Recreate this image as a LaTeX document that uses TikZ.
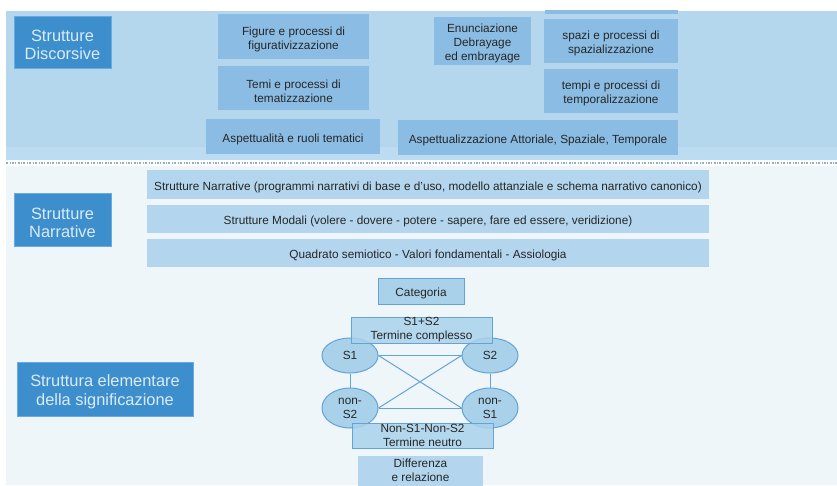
\documentclass[tikz,border=0pt]{standalone}
\usepackage{fontspec}
\setmainfont{Liberation Sans}
\usetikzlibrary{shapes.geometric}
\definecolor{toppanel}{HTML}{B5D7EE}
\definecolor{toppanelb}{HTML}{BCDCF1}
\definecolor{topbox}{HTML}{8BBDE4}
\definecolor{lowpanel}{HTML}{EFF6FA}
\definecolor{lowbox}{HTML}{B3D6EE}
\definecolor{darkbox}{HTML}{3D8ECD}
\definecolor{darkline}{HTML}{6AAAE0}
\definecolor{darktext}{HTML}{DCEBF8}
\definecolor{sqfill}{HTML}{A9D2EA}
\definecolor{sqline}{HTML}{64A3D8}
\definecolor{txt}{HTML}{262626}
\definecolor{dashc}{HTML}{93AFC6}
\begin{document}
\begin{tikzpicture}[x=1pt,y=-1pt,
  every node/.style={font=\fontsize{11.8}{14}\selectfont, text=txt, align=center, inner sep=0pt},
  lower/.style={execute at begin node={\rule{0pt}{#1}}},
  ml/.style={label={[yshift=-2.8pt]center:{#1}}},
  dml/.style={label={[yshift=-2.8pt, text=darktext, font=\fontsize{16.4}{18.5}\selectfont]center:{#1}}},
  tbox/.style={fill=topbox},
  lbox/.style={fill=lowbox, lower=14pt},
  dbox/.style={fill=darkbox, draw=darkline, line width=0.6pt},
  sqbox/.style={fill=sqfill, draw=sqline, line width=1pt, fill opacity=0.85, text opacity=1},
  ell/.style={ellipse, fill=sqfill, draw=sqline, line width=1pt},
  conn/.style={draw=sqline, line width=1pt}]
\clip (0,0) rectangle (837,485);
\fill[white] (0,0) rectangle (837,485);
% panels
\fill[toppanel] (6,11) rectangle (837,160);
\fill[toppanelb] (6,147) rectangle (837,160);
\fill[lowpanel] (6,166) rectangle (837,485);
\draw[dashc, line width=1.1pt, dash pattern=on 2pt off 1.5pt on 0.8pt off 1.5pt] (6,163) -- (837,163);
% top section
\node[dbox, minimum width=97pt, minimum height=52pt, dml={Strutture\\Discorsive}] (sd) at (62.5,42) {};
\node[tbox, minimum width=151pt, minimum height=45pt, ml={Figure e processi di\\figurativizzazione}] (fig) at (293.5,36.5) {};
\node[tbox, minimum width=151pt, minimum height=44pt, ml={Temi e processi di\\tematizzazione}] (temi) at (293.5,88) {};
\node[tbox, lower=15pt, minimum width=174pt, minimum height=35pt] (asp) at (293,136.5) {Aspettualità e ruoli tematici};
\node[tbox, minimum width=97pt, minimum height=48pt, ml={Enunciazione\\Debrayage\\ed embrayage}] (enun) at (482.5,41) {};
\fill[topbox] (545,10) rectangle (678,13.5);
\node[tbox, minimum width=134pt, minimum height=44pt, ml={spazi e processi di\\spazializzazione}] (spazi) at (611,41) {};
\node[tbox, minimum width=134pt, minimum height=44pt, ml={tempi e processi di\\temporalizzazione}] (tempi) at (611,91) {};
\node[tbox, lower=15pt, minimum width=280pt, minimum height=35pt] (aspz) at (538,137.5) {Aspettualizzazione Attoriale, Spaziale, Temporale};
% narrative section
\node[dbox, minimum width=97pt, minimum height=53pt, dml={Strutture\\Narrative}] (sn) at (62.5,220) {};
\node[lbox, minimum width=562pt, minimum height=29pt] (l1) at (428,184.5) {Strutture Narrative (programmi narrativi di base e d’uso, modello attanziale e schema narrativo canonico)};
\node[lbox, minimum width=562pt, minimum height=28pt] (l2) at (428,219) {Strutture Modali (volere - dovere - potere - sapere, fare ed essere, veridizione)};
\node[lbox, minimum width=562pt, minimum height=28pt] (l3) at (428,253) {Quadrato semiotico - Valori fondamentali - Assiologia};
% elementary structure
\node[dbox, minimum width=176pt, minimum height=54pt, dml={Struttura elementare\\della significazione}] (se) at (105,389) {};
\node[sqbox, fill opacity=1, lower=14pt, minimum width=86pt, minimum height=26pt] (cat) at (421,291) {Categoria};
\node[ell, minimum width=56pt, minimum height=35pt] (s1) at (350,355.5) {S1};
\node[ell, minimum width=56pt, minimum height=35pt] (s2) at (490,355.5) {S2};
\node[ell, minimum width=56pt, minimum height=40pt] (ns2) at (350,408) {non-\\S2};
\node[ell, minimum width=56pt, minimum height=40pt] (ns1) at (490,408) {non-\\S1};
\draw[conn] (s1.east) -- (s2.west);
\draw[conn] (ns2.east) -- (ns1.west);
\draw[conn] (s1.east) -- (ns1.west);
\draw[conn] (s2.west) -- (ns2.east);
\draw[conn] (s1.south) -- (ns2.north);
\draw[conn] (s2.south) -- (ns1.north);
\node[sqbox, minimum width=141pt, minimum height=26pt] (comp) at (421.5,330) {S1+S2\\Termine complesso};
\node[sqbox, minimum width=141pt, minimum height=25pt] (neut) at (422.5,435.5) {Non-S1-Non-S2\\Termine neutro};
\node[fill=lowbox, minimum width=125pt, minimum height=30pt] (diff) at (420.5,470.5) {Differenza\\e relazione};
\end{tikzpicture}
\end{document}
